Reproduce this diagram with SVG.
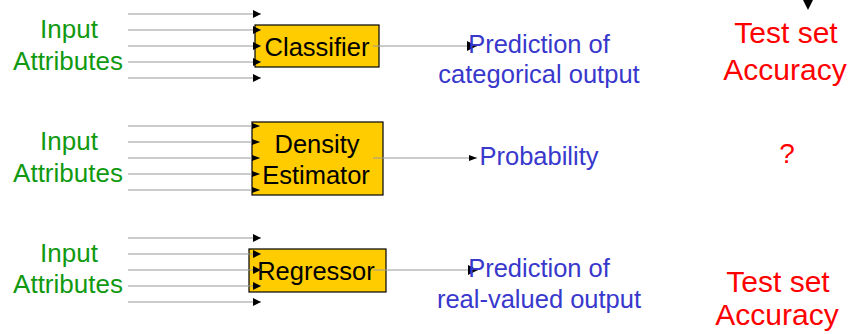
<svg xmlns="http://www.w3.org/2000/svg" width="852" height="334" viewBox="0 0 852 334">
<defs>
<style>
text{font-family:"Liberation Sans",Arial,sans-serif;text-anchor:middle}
.in{fill:#119911;font-size:26px}
.box{fill:#FFCC00;stroke:#000;stroke-width:1.2}
.bt{fill:#000;font-size:25.5px}
.out{fill:#3838CC;font-size:25.5px}
.ev{fill:#FF0000;font-size:30px}
.ln{stroke:#999;stroke-width:1.2;fill:none}
.la{marker-end:url(#a)}
.ls{marker-end:url(#s)}
.lo{marker-end:url(#o)}
.ah{fill:#000}
</style>
<marker id="a" viewBox="0 0 8 8" refX="8" refY="4" markerWidth="8" markerHeight="8" markerUnits="userSpaceOnUse" orient="auto"><path d="M0,0L8,4L0,8z" class="ah"/></marker>
<marker id="s" viewBox="0 0 8 6" refX="8" refY="3" markerWidth="8" markerHeight="6" markerUnits="userSpaceOnUse" orient="auto"><path d="M0,0L8,3L0,6z" class="ah"/></marker>
<marker id="o" viewBox="0 0 10 10" refX="10" refY="5" markerWidth="10" markerHeight="10" markerUnits="userSpaceOnUse" orient="auto"><path d="M0,0L10,5L0,10z" class="ah"/></marker>
</defs>

<g id="inputs1"><text class="in" x="69" y="38">Input</text><text class="in" x="68" y="70">Attributes</text></g>
<g id="inputs2"><text class="in" x="69" y="150">Input</text><text class="in" x="68" y="182">Attributes</text></g>
<g id="inputs3"><text class="in" x="69" y="262">Input</text><text class="in" x="68" y="293">Attributes</text></g>

<g id="classifier"><rect class="box" x="255" y="25" width="124" height="42"/><text class="bt" x="317" y="56">Classifier</text></g>
<g id="density-estimator"><rect class="box" x="252" y="122" width="131" height="73"/><text class="bt" x="317" y="153">Density</text><text class="bt" x="316" y="184">Estimator</text></g>
<g id="regressor"><rect class="box" x="249" y="249" width="137" height="43"/><text class="bt" x="316" y="280">Regressor</text></g>

<g id="connectors">
<line class="ln la" x1="128" y1="14" x2="261" y2="14"/>
<line class="ln la" x1="128" y1="30" x2="261" y2="30"/>
<line class="ln la" x1="128" y1="46" x2="261" y2="46"/>
<line class="ln la" x1="128" y1="62" x2="261" y2="62"/>
<line class="ln la" x1="128" y1="78" x2="261" y2="78"/>
<line class="ln ls" x1="128" y1="126" x2="260" y2="126"/>
<line class="ln ls" x1="128" y1="142" x2="260" y2="142"/>
<line class="ln ls" x1="128" y1="158" x2="260" y2="158"/>
<line class="ln ls" x1="128" y1="174" x2="260" y2="174"/>
<line class="ln ls" x1="128" y1="190" x2="260" y2="190"/>
<line class="ln la" x1="128" y1="238" x2="261" y2="238"/>
<line class="ln la" x1="128" y1="254" x2="261" y2="254"/>
<line class="ln la" x1="128" y1="270" x2="261" y2="270"/>
<line class="ln la" x1="128" y1="286" x2="261" y2="286"/>
<line class="ln la" x1="128" y1="302" x2="261" y2="302"/>
<line class="ln lo" x1="373" y1="46" x2="477" y2="46"/>
<line class="ln ls" x1="373" y1="158" x2="477" y2="158"/>
<line class="ln lo" x1="373" y1="270" x2="478" y2="270"/>
<path class="ah" d="M803,0H813L808,10z"/>
</g>

<g id="output1"><text class="out" x="539" y="53">Prediction of</text><text class="out" x="539" y="83">categorical output</text></g>
<g id="output2"><text class="out" x="539" y="165">Probability</text></g>
<g id="output3"><text class="out" x="539" y="277">Prediction of</text><text class="out" x="539" y="308">real-valued output</text></g>

<g id="eval1"><text class="ev" x="786" y="43">Test set</text><text class="ev" x="785" y="80">Accuracy</text></g>
<g id="eval2"><text class="ev" x="787" y="163" style="font-size:28px">?</text></g>
<g id="eval3"><text class="ev" x="778" y="292">Test set</text><text class="ev" x="777" y="325">Accuracy</text></g>
</svg>
